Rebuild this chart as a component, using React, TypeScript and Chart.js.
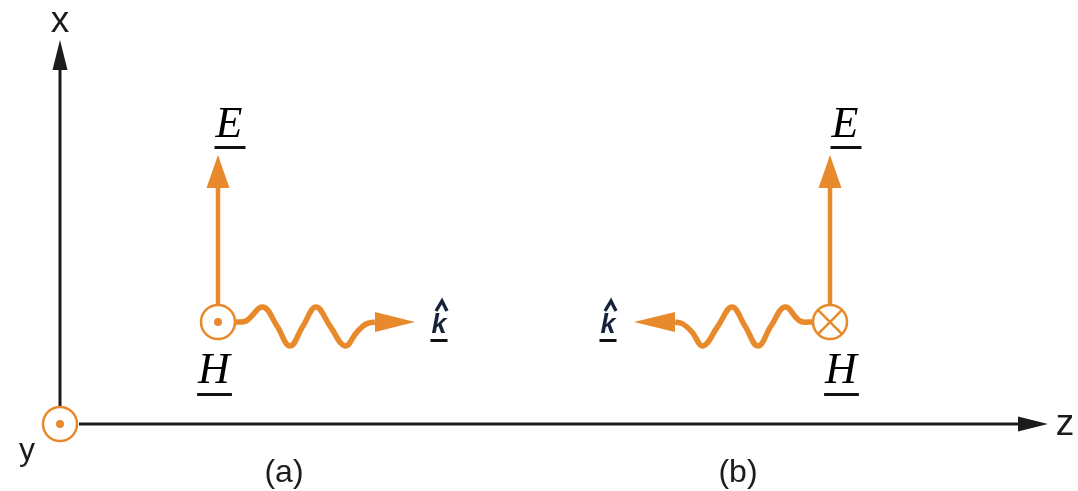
import React, { useEffect, useRef } from "react";
import { Chart, registerables } from "chart.js";

Chart.register(...registerables);

// ---- diagram data (image-pixel coordinate system, y grows downward) ----
const xAxisLine = [{ x: 79, y: 424 }, { x: 1018, y: 424 }];
const xAxisTip = { x: 1048, y: 424 };
const yAxisLine = [{ x: 60, y: 406 }, { x: 60, y: 70 }];
const yAxisTip = { x: 60, y: 40 };

const eShaftA = [{ x: 218, y: 304 }, { x: 218, y: 188 }];
const eTipA = { x: 218, y: 155 };
const eShaftB = [{ x: 830, y: 304 }, { x: 830, y: 188 }];
const eTipB = { x: 830, y: 155 };

const waveA = [
  { x: 235, y: 322 }, { x: 246, y: 321 }, { x: 263, y: 307 }, { x: 277, y: 326 },
  { x: 290, y: 346 }, { x: 303, y: 326 }, { x: 316, y: 307 }, { x: 330, y: 326 },
  { x: 345, y: 346 }, { x: 357, y: 332 }, { x: 366, y: 324 }, { x: 375, y: 322 },
];
const kTipA = { x: 415, y: 322 };
const waveB = [
  { x: 813, y: 322 }, { x: 800, y: 321 }, { x: 785, y: 307 }, { x: 771, y: 326 },
  { x: 758, y: 346 }, { x: 745, y: 326 }, { x: 732, y: 307 }, { x: 718, y: 326 },
  { x: 703, y: 346 }, { x: 692, y: 332 }, { x: 683, y: 324 }, { x: 675, y: 322 },
];
const kTipB = { x: 634, y: 322 };

const outOfPage = [{ x: 60, y: 424 }, { x: 218, y: 322 }];
const intoPage = [{ x: 830, y: 322 }];

const axisLabels = ["x", "y", "z"];
const axisLabelPos = [{ x: 60, y: 32 }, { x: 27, y: 460 }, { x: 1065, y: 435 }];
const panelLabels = ["(a)", "(b)"];
const panelLabelPos = [{ x: 284, y: 482 }, { x: 738, y: 482 }];
const eLabel = "E";
const eLabelPos = [{ x: 229, y: 137 }, { x: 845, y: 137 }];
const hLabel = "H";
const hLabelPos = [{ x: 214, y: 383 }, { x: 841, y: 383 }];
const kLabel = "k";
const kLabelPos = [{ x: 439, y: 333 }, { x: 608, y: 333 }];

// ---- styles ----
const ORANGE = "#E8892B";
const INK = "#1c1c1c";
const NAVY = "#17223b";

const arrowPlugin = {
  id: "arrowHeads",
  afterDatasetsDraw(chart: any) {
    const { ctx } = chart;
    const xs = chart.scales.x;
    const ys = chart.scales.y;
    chart.data.datasets.forEach((ds: any) => {
      if (!ds.arrowTip) return;
      const last = ds.data[ds.data.length - 1];
      const bx = xs.getPixelForValue(last.x);
      const by = ys.getPixelForValue(last.y);
      const tx = xs.getPixelForValue(ds.arrowTip.x);
      const ty = ys.getPixelForValue(ds.arrowTip.y);
      const len = Math.hypot(tx - bx, ty - by) || 1;
      const px = -(ty - by) / len;
      const py = (tx - bx) / len;
      const hw = ds.arrowHalfWidth;
      ctx.save();
      ctx.fillStyle = ds.borderColor;
      ctx.beginPath();
      ctx.moveTo(tx, ty);
      ctx.lineTo(bx + px * hw, by + py * hw);
      ctx.lineTo(bx - px * hw, by - py * hw);
      ctx.closePath();
      ctx.fill();
      ctx.restore();
    });
  },
};

const labelPlugin = {
  id: "diagramLabels",
  afterDraw(chart: any) {
    const { ctx } = chart;
    const xs = chart.scales.x;
    const ys = chart.scales.y;
    const put = (
      text: string,
      p: { x: number; y: number },
      font: string,
      color: string,
      underline?: { gap: number; width: number; extra: number },
      hat?: boolean
    ) => {
      const cx = xs.getPixelForValue(p.x);
      const cy = ys.getPixelForValue(p.y);
      ctx.save();
      ctx.font = font;
      ctx.fillStyle = color;
      ctx.textAlign = "center";
      ctx.textBaseline = "alphabetic";
      ctx.fillText(text, cx, cy);
      const w = ctx.measureText(text).width;
      if (underline) {
        ctx.fillStyle = "#111";
        ctx.fillRect(cx - w / 2 - 1, cy + underline.gap, w + underline.extra, underline.width);
      }
      if (hat) {
        ctx.strokeStyle = color;
        ctx.lineWidth = 3.4;
        ctx.lineJoin = "miter";
        ctx.beginPath();
        ctx.moveTo(cx - 3, cy - 22);
        ctx.lineTo(cx + 3, cy - 32);
        ctx.lineTo(cx + 8, cy - 22);
        ctx.stroke();
      }
      ctx.restore();
    };
    const sans = "'Liberation Sans', Arial, sans-serif";
    const serif = "'Liberation Serif', 'Times New Roman', serif";
    put(axisLabels[0], axisLabelPos[0], `37px ${sans}`, INK);
    put(axisLabels[1], axisLabelPos[1], `32px ${sans}`, INK);
    put(axisLabels[2], axisLabelPos[2], `37px ${sans}`, INK);
    panelLabels.forEach((t, i) => put(t, panelLabelPos[i], `32px ${sans}`, INK));
    eLabelPos.forEach((p) => put(eLabel, p, `italic 44px ${serif}`, "#000", { gap: 9, width: 3, extra: 4 }));
    hLabelPos.forEach((p) => put(hLabel, p, `italic 44px ${serif}`, "#000", { gap: 10, width: 3, extra: 3 }));
    kLabelPos.forEach((p) => put(kLabel, p, `bold italic 27px ${sans}`, NAVY, { gap: 6, width: 3, extra: 2 }, true));
  },
};

export default function App() {
  const canvasRef = useRef<HTMLCanvasElement | null>(null);

  useEffect(() => {
    if (!canvasRef.current) return;
    const lineDs = (data: any[], color: string, width: number, tip?: any, hw?: number, tension = 0) => ({
      type: "line" as const,
      data,
      showLine: true,
      borderColor: color,
      backgroundColor: color,
      borderWidth: width,
      borderCapStyle: "butt",
      borderJoinStyle: "round",
      pointRadius: 0,
      tension,
      fill: false,
      clip: false,
      arrowTip: tip,
      arrowHalfWidth: hw,
    });

    const chart = new Chart(canvasRef.current, {
      type: "scatter",
      data: {
        datasets: [
          {
            data: [...outOfPage],
            pointStyle: "circle",
            pointRadius: 4,
            backgroundColor: ORANGE,
            borderWidth: 0,
            clip: false,
          } as any,
          {
            data: [...intoPage],
            pointStyle: "crossRot",
            pointRadius: 17,
            borderColor: ORANGE,
            borderWidth: 2.5,
            clip: false,
          } as any,
          {
            data: [...outOfPage, ...intoPage],
            pointStyle: "circle",
            pointRadius: 17,
            borderColor: ORANGE,
            backgroundColor: "#ffffff",
            borderWidth: 2.5,
            clip: false,
          } as any,
          lineDs(waveA, ORANGE, 5.5, kTipA, 10, 0.4) as any,
          lineDs(waveB, ORANGE, 5.5, kTipB, 10, 0.4) as any,
          lineDs(eShaftA, ORANGE, 4.5, eTipA, 11.5) as any,
          lineDs(eShaftB, ORANGE, 4.5, eTipB, 11.5) as any,
          lineDs(xAxisLine, INK, 3, xAxisTip, 7.5) as any,
          lineDs(yAxisLine, INK, 3, yAxisTip, 7.5) as any,
        ],
      },
      options: {
        responsive: true,
        maintainAspectRatio: false,
        animation: false,
        events: [],
        layout: { padding: 0, autoPadding: false },
        plugins: { legend: { display: false }, tooltip: { enabled: false } },
        scales: {
          x: { type: "linear", min: 0, max: 1078, display: false },
          y: { type: "linear", min: 0, max: 491, reverse: true, display: false },
        },
      },
      plugins: [arrowPlugin, labelPlugin],
    } as any);
    return () => chart.destroy();
  }, []);

  return (
    <div style={{ position: "fixed", left: 0, top: 0, width: 1078, height: 491, background: "#ffffff" }}>
      <canvas ref={canvasRef} />
    </div>
  );
}
